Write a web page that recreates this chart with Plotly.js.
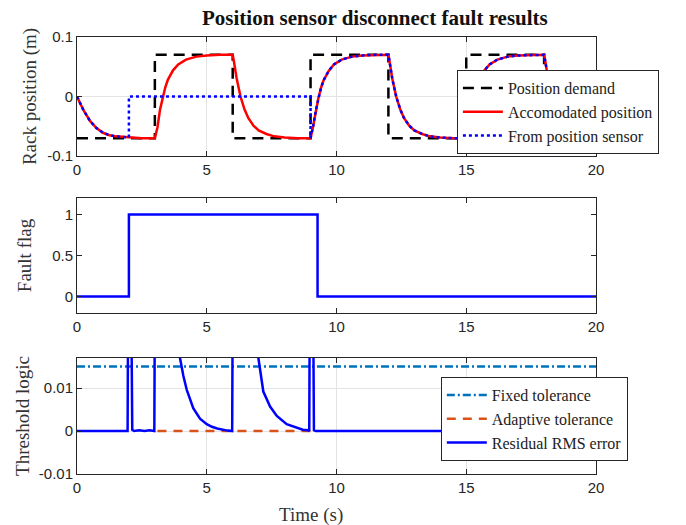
<!DOCTYPE html>
<html>
<head>
<meta charset="utf-8">
<script src="https://cdn.plot.ly/plotly-3.0.1.min.js"></script>
<style>html,body{margin:0;padding:0;background:#fff}#chart{width:686px;height:525px}</style>
</head>
<body>
<div id="chart"></div>
<script>
// ---------- data ----------
const demandT = [0, 3, 3, 6, 6, 9, 9, 12, 12, 15, 15, 18, 18, 20];
const demandY = [-0.07, -0.07, 0.07, 0.07, -0.07, -0.07, 0.07, 0.07, -0.07, -0.07, 0.07, 0.07, -0.07, -0.07];

const accomT = [0, 0.25, 0.5, 0.75, 1.0, 1.25, 1.5, 2.0, 2.5, 3.0,
  3.1, 3.2, 3.3, 3.4, 3.5, 3.7, 3.9, 4.2, 4.6, 5.0, 5.5, 6.0,
  6.05, 6.15, 6.3, 6.45, 6.6, 6.8, 7.0, 7.3, 7.6, 8.0, 8.5, 9.0,
  9.1, 9.2, 9.3, 9.4, 9.5, 9.7, 9.9, 10.2, 10.6, 11.0, 11.5, 12.0,
  12.05, 12.15, 12.3, 12.45, 12.6, 12.8, 13.0, 13.3, 13.6, 14.0, 14.5, 15.0,
  15.1, 15.2, 15.3, 15.4, 15.5, 15.7, 15.9, 16.2, 16.6, 17.0, 17.5, 18.0,
  18.05, 18.15, 18.3, 18.45, 18.6, 18.8, 19.0, 19.3, 19.6, 20.0];
const accomY = [0, -0.023, -0.041, -0.053, -0.061, -0.065, -0.067, -0.069, -0.070, -0.070,
  -0.052, -0.022, -0.001, 0.015, 0.028, 0.044, 0.054, 0.062, 0.067, 0.069, 0.070, 0.070,
  0.058, 0.031, 0.000, -0.021, -0.036, -0.049, -0.057, -0.063, -0.067, -0.069, -0.070, -0.070,
  -0.050, -0.024, -0.003, 0.014, 0.027, 0.043, 0.054, 0.062, 0.067, 0.069, 0.070, 0.070,
  0.057, 0.030, 0.000, -0.021, -0.036, -0.049, -0.057, -0.063, -0.067, -0.069, -0.070, -0.070,
  -0.051, -0.023, -0.002, 0.015, 0.028, 0.044, 0.054, 0.062, 0.067, 0.069, 0.070, 0.070,
  0.058, 0.031, 0.000, -0.021, -0.036, -0.049, -0.057, -0.063, -0.067, -0.069];

const sensorT = [0, 0.25, 0.5, 0.75, 1.0, 1.25, 1.5, 2.0, 2.0, 9.0, 9.0,
  9.1, 9.2, 9.3, 9.4, 9.5, 9.7, 9.9, 10.2, 10.6, 11.0, 11.5, 12.0,
  12.05, 12.15, 12.3, 12.45, 12.6, 12.8, 13.0, 13.3, 13.6, 14.0, 14.5, 15.0,
  15.1, 15.2, 15.3, 15.4, 15.5, 15.7, 15.9, 16.2, 16.6, 17.0, 17.5, 18.0,
  18.05, 18.15, 18.3, 18.45, 18.6, 18.8, 19.0, 19.3, 19.6, 20.0];
const sensorY = [0, -0.023, -0.041, -0.053, -0.061, -0.065, -0.067, -0.069, 0, 0, -0.070,
  -0.050, -0.024, -0.003, 0.014, 0.027, 0.043, 0.054, 0.062, 0.067, 0.069, 0.070, 0.070,
  0.057, 0.030, 0.000, -0.021, -0.036, -0.049, -0.057, -0.063, -0.067, -0.069, -0.070, -0.070,
  -0.051, -0.023, -0.002, 0.015, 0.028, 0.044, 0.054, 0.062, 0.067, 0.069, 0.070, 0.070,
  0.058, 0.031, 0.000, -0.021, -0.036, -0.049, -0.057, -0.063, -0.067, -0.069];

const flagT = [0, 2, 2, 9.27, 9.27, 20];
const flagY = [0, 0, 1, 1, 0, 0];

const fixedT = [0, 20];
const fixedY = [0.015, 0.015];

const adaptT = [3.1, 9.1];
const adaptY = [0, 0];

const rmsT = [0, 1.95, 1.97, 2.09, 2.13, 2.2, 2.4, 2.6, 2.8, 2.98, 3.0, 3.05,
  3.9, 3.97, 4.1, 4.23, 4.48, 4.74, 5.0, 5.2, 5.4, 5.6, 5.8, 5.98, 6.0, 6.05,
  6.9, 6.99, 7.1, 7.18, 7.44, 7.7, 8.08, 8.3, 8.47, 8.7, 8.9, 8.95, 8.97, 9.1, 9.13, 9.2, 20];
const rmsY = [0, 0, 0.03, 0.03, 0.0003, 0, 0.0002, 0, 0.0002, 0, 0.03, 0.05,
  0.03, 0.017, 0.0128, 0.0096, 0.0053, 0.0029, 0.0016, 0.001, 0.0006, 0.0003, 0.0001, 0, 0.03, 0.05,
  0.03, 0.017, 0.012, 0.0092, 0.0057, 0.0035, 0.0016, 0.0011, 0.0008, 0.0003, 0.0002, 0, 0.03, 0.03, 0.0002, 0, 0];

const xTicks = [0, 5, 10, 15, 20];
const xTickText = ['0', '5', '10', '15', '20'];
const y1Ticks = [-0.1, 0, 0.1];
const y1TickText = ['-0.1', '0', '0.1'];
const y2Ticks = [0, 0.5, 1];
const y2TickText = ['0', '0.5', '1'];
const y3Ticks = [-0.01, 0, 0.01];
const y3TickText = ['-0.01', '0', '0.01'];

// ---------- styling ----------
const AX = '#262626';
const SERIF = 'Liberation Serif, DejaVu Serif, serif';
const SANS = 'Liberation Sans, Arial, sans-serif';
const TITLE_FONT = {family: SERIF, size: 19, color: '#333'};

function xAxis(anchor, grid) {
  return {
    anchor: anchor, range: [0, 20], tickmode: 'array', tickvals: xTicks, ticktext: xTickText,
    showline: true, mirror: 'allticks', linecolor: AX, linewidth: 1,
    ticks: 'inside', ticklen: 5, tickcolor: AX, zeroline: false,
    showgrid: grid, gridcolor: '#e3e3e3', gridwidth: 1,
    tickfont: {family: SANS, size: 15, color: AX}
  };
}
function yAxis(anchor, domain, range, tv, tt, grid, title, standoff) {
  return {
    anchor: anchor, domain: domain, range: range, tickmode: 'array', tickvals: tv, ticktext: tt,
    showline: true, mirror: 'allticks', linecolor: AX, linewidth: 1,
    ticks: 'inside', ticklen: 5, tickcolor: AX, zeroline: false,
    showgrid: grid, gridcolor: '#e3e3e3', gridwidth: 1,
    tickfont: {family: SANS, size: 15, color: AX},
    title: {text: title, font: TITLE_FONT, standoff: standoff}
  };
}

const traces = [
  {x: demandT, y: demandY, xaxis: 'x', yaxis: 'y', mode: 'lines', name: 'Position demand',
   line: {color: '#000000', width: 2.5, dash: '11px,7px'}, legend: 'legend'},
  {x: accomT, y: accomY, xaxis: 'x', yaxis: 'y', mode: 'lines', name: 'Accomodated position',
   line: {color: '#FF0000', width: 2.5}, legend: 'legend'},
  {x: sensorT, y: sensorY, xaxis: 'x', yaxis: 'y', mode: 'lines', name: 'From position sensor',
   line: {color: '#0000FF', width: 2.5, dash: '3px,3px'}, legend: 'legend'},
  {x: flagT, y: flagY, xaxis: 'x2', yaxis: 'y2', mode: 'lines', name: 'Fault flag',
   line: {color: '#0000FF', width: 2.5}, showlegend: false},
  {x: fixedT, y: fixedY, xaxis: 'x3', yaxis: 'y3', mode: 'lines', name: 'Fixed tolerance',
   line: {color: '#0072BD', width: 2.5, dash: '8px,3px,2px,3px'}, legend: 'legend2'},
  {x: adaptT, y: adaptY, xaxis: 'x3', yaxis: 'y3', mode: 'lines', name: 'Adaptive tolerance',
   line: {color: '#D95319', width: 2.5, dash: '9px,7px'}, legend: 'legend2'},
  {x: rmsT, y: rmsY, xaxis: 'x3', yaxis: 'y3', mode: 'lines', name: 'Residual RMS error',
   line: {color: '#0000FF', width: 2.5}, legend: 'legend2'}
];

const legendStyle = {
  bgcolor: '#ffffff', bordercolor: AX, borderwidth: 1,
  font: {family: SERIF, size: 16, color: '#222'},
  xanchor: 'left', yanchor: 'top', itemwidth: 40, tracegroupgap: 0
};

const layout = {
  width: 686, height: 525,
  margin: {l: 77, r: 90, t: 37, b: 51},
  paper_bgcolor: '#ffffff', plot_bgcolor: '#ffffff',
  showlegend: true,
  title: {text: '<b>Position sensor disconnect fault results</b>', font: {family: SERIF, size: 21, color: '#111'},
          x: 0.574, xref: 'paper', xanchor: 'center', y: 0.967, yref: 'container', yanchor: 'middle'},
  xaxis: xAxis('y', true),
  yaxis: yAxis('x', [0.7277, 1], [-0.1, 0.1], y1Ticks, y1TickText, true, 'Rack position (m)', 5),
  xaxis2: xAxis('y2', false),
  yaxis2: yAxis('x2', [0.3684, 0.6316], [-0.2, 1.2], y2Ticks, y2TickText, false, 'Fault flag', 15),
  xaxis3: xAxis('y3', true),
  yaxis3: yAxis('x3', [0, 0.2654], [-0.01, 0.017], y3Ticks, y3TickText, true, 'Threshold logic', 4),
  legend: Object.assign({x: 0.732, y: 0.9245}, legendStyle),
  legend2: Object.assign({x: 0.701, y: 0.222}, legendStyle),
  annotations: [
    {text: 'Time (s)', xref: 'paper', yref: 'paper', x: 0.451, y: -0.093, xanchor: 'center', yanchor: 'middle',
     showarrow: false, font: TITLE_FONT}
  ]
};

Plotly.newPlot('chart', traces, layout, {staticPlot: true, displayModeBar: false});
</script>
</body>
</html>
